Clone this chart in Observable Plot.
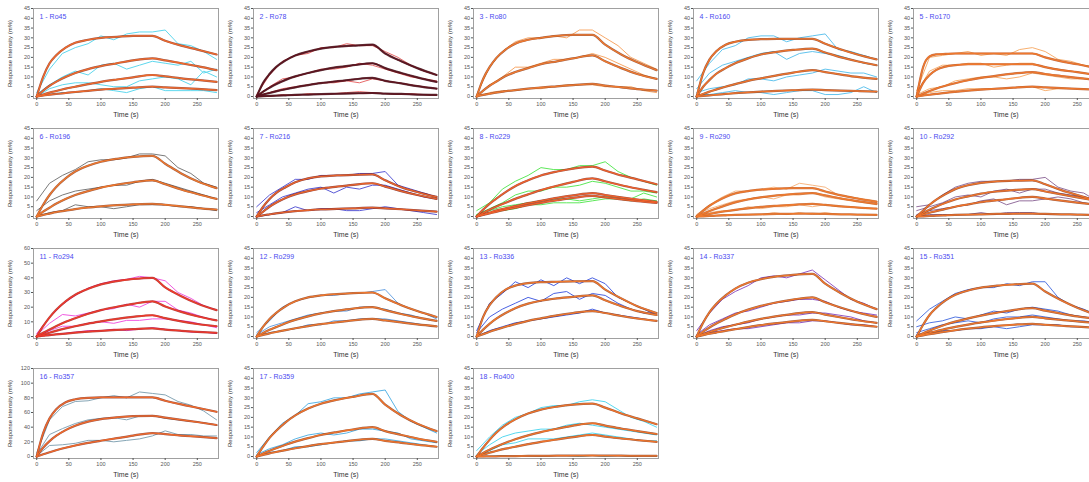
<!DOCTYPE html>
<html><head><meta charset="utf-8">
<script src="https://cdn.jsdelivr.net/npm/d3@7"></script>
<script src="https://cdn.jsdelivr.net/npm/@observablehq/plot@0.6"></script>
<style>
html,body{margin:0;padding:0;background:#fff;overflow:hidden;width:1089px;height:482px}
#grid{position:relative;width:1100px;height:482px}
.panel{position:absolute;width:220px;height:120px}
</style></head><body><div id="grid"></div>
<script>
// ---- time grids & ticks ----
const T_FIT = [0,10,20,30,45,60,80,100,125,150,180,200,225,250,280];
const T_RAW = [0,20,40,60,80,100,120,140,160,180,200,220,240,260,280];
const X_TICKS = [0,50,100,150,200,250];
const Y_TICKS_45 = [0,5,10,15,20,25,30,35,40,45];
const Y_TICKS_60 = [0,10,20,30,40,50,60];
const Y_TICKS_120 = [0,20,40,60,80,100,120];

// ---- panel metadata ----
const TITLES = ["1 - Ro45","2 - Ro78","3 - Ro80","4 - Ro160","5 - Ro170","6 - Ro196","7 - Ro216","8 - Ro229","9 - Ro290","10 - Ro292","11 - Ro294","12 - Ro299","13 - Ro336","14 - Ro337","15 - Ro351","16 - Ro357","17 - Ro359","18 - Ro400"];
const Y_MAX = [45,45,45,45,45,45,45,45,45,45,60,45,45,45,45,120,45,45];
const RAW_COLORS = ["#5fd8ee","#e86a6a","#f8a868","#62c4ee","#f8b070","#7a7a7a","#5a5ad6","#5ee85a","#f8b884","#94709e","#f05ae0","#6aa4e4","#4a62e2","#9256c4","#5276e2","#86a6b6","#58b4e6","#56d8f0"];
const FIT_COLORS = ["#f06a2a","#5e1420","#f07a2e","#f0742a","#f0782c","#f0782c","#e8642a","#f0602a","#f07a2c","#f0742a","#ee3a2a","#f0782c","#f0782c","#f0782c","#f0782c","#f06a2a","#f0742a","#f0742a"];
const FIT_EDGES = ["#8a3020","#3a0a10","#8a3a1c","#8a3a1c","#b04a1a","#8a3a1c","#7a1a1a","#8a3020","#b8521e","#8a3a1c","#a01a1a","#8a3a1c","#8a3a1c","#8a3a1c","#8a3a1c","#8a3020","#8a3a1c","#8a3a1c"];

// ---- fitted curves (values at T_FIT) ----
const FIT_1 = [[0,10,17,21,25,27.5,29,30,30.5,31,31,28.5,26,24,21.5],[0,3,5.5,7.5,10,12,14,15.5,17,18.5,19.5,18.5,17,15.5,13.5],[0,1,2,2.8,4,5,6.3,7.5,8.7,9.8,11,10.3,9.3,8.5,7.5],[0,0.5,0.9,1.3,1.8,2.3,2.9,3.5,4,4.5,5,4.7,4.3,3.9,3.3]];
const FIT_2 = [[0,7,11.5,15,18.5,21,23,24.5,25.5,26,26.5,22,18,14.5,11],[0,2.5,4.5,6.3,8.5,10.3,12,13.5,15,16,17,14.5,12,9.8,7.5],[0,1,1.8,2.6,3.7,4.7,5.8,6.8,7.8,8.7,9.5,8,6.7,5.3,4],[0,0.2,0.3,0.4,0.6,0.8,1,1.2,1.4,1.6,1.8,1.5,1.3,1,0.8]];
const FIT_3 = [[0,9,15,19.5,24,27,29,30,31,31.5,31.5,26.5,21.5,17.5,13.5],[0,3,5.5,7.5,10.5,12.5,14.5,16.5,18,19.5,21,18,14.5,11.5,9],[0,0.8,1.4,2,2.7,3.3,4,4.6,5.2,5.8,6.5,5.6,4.7,3.8,3]];
const FIT_4 = [[0,12,19,23,26.5,28,29,29.3,29.5,29.5,29.5,27,24,21.5,19],[0,5,8.5,11.5,14.5,17,19.5,21.5,22.8,23.8,24.5,22.5,20,18,16],[0,1.3,2.5,3.5,5,6.3,8,9.3,10.8,12.2,13.5,12.5,11.2,10,9],[0,0.3,0.6,0.9,1.3,1.7,2.1,2.5,2.9,3.2,3.5,3.3,3,2.8,2.5]];
const FIT_5 = [[0,15,20.5,21.5,21.8,22,22,22,22,22,22,20,18,16.5,14.5],[0,7,11,13.5,15.3,16,16.5,16.5,16.5,16.5,16.5,15,13.5,12.5,11],[0,1.5,2.8,4,5.5,6.8,8.3,9.5,10.7,11.7,12.5,11.5,10.5,9.5,8.5],[0,0.5,0.9,1.3,1.9,2.4,3,3.5,4,4.5,5,4.7,4.3,3.9,3.5]];
const FIT_6 = [[0,6,11,15,19.5,23,26,28,29.5,30.5,31,27,22,18,14.5],[0,2.5,4.5,6.5,9,11,13,14.8,16.3,17.5,18.5,16.5,13.8,11.5,9],[0,0.8,1.5,2.2,3,3.8,4.6,5.2,5.8,6.2,6.5,6,5.2,4.3,3.5]];
const FIT_7 = [[0,5,9,12,15,17.5,19.5,20.5,21,21.3,21.5,18.5,15,12.5,10],[0,2.5,5,7,9.5,11.3,13,14.3,15.3,16.2,17,15.3,13,11,9],[0,0.6,1.1,1.6,2.2,2.7,3.2,3.6,3.9,4.2,4.5,4.2,3.7,3.1,2.5]];
const FIT_8 = [[0,3.5,6.5,9,12.5,15.5,18.5,21,23,24.5,25.5,23.5,21,19,16.5],[0,1.8,3.5,5,7,9,11.3,13.5,15.7,17.7,19.5,18,16,14.3,12.5],[0,1,2,3,4.2,5.3,6.8,8,9.5,10.8,12,11,9.8,8.7,7.5],[0,0.8,1.6,2.4,3.5,4.5,5.8,7,8.3,9.5,10.5,9.8,8.8,7.9,7]];
const FIT_9 = [[0,3,5.5,7.5,10,11.8,13,13.7,14.2,14.5,14.5,12.8,10.8,9.2,7.5],[0,1.5,2.8,4,5.7,7.2,8.7,9.8,10.8,11.5,12,10.8,9.2,7.9,6.5],[0,0.7,1.3,1.9,2.7,3.4,4.2,4.9,5.5,6,6.5,5.9,5.2,4.6,4],[0,0.1,0.3,0.4,0.6,0.8,1,1.1,1.3,1.4,1.5,1.3,1.1,1,0.8]];
const FIT_10 = [[0,3,6,8.5,11.5,14,16,17.2,18,18.3,18.5,16.5,13.5,11,8],[0,1.8,3.5,5,7,8.7,10.3,11.7,12.8,13.5,14,12.8,11.3,9.8,8],[0,1,1.9,2.7,3.9,5,6.2,7.3,8.3,9.2,10,9.2,8.1,7.1,6],[0,0.1,0.3,0.4,0.6,0.8,1,1.1,1.3,1.4,1.5,1.3,1.1,1,0.8]];
const FIT_11 = [[0,7,13,18,24,28.5,32.5,35.5,37.8,39.2,40,33.5,27.5,22.5,18],[0,2.5,4.8,7,10,12.5,15.5,18,20.3,22.3,24,20.5,16.8,13.8,11],[0,1.3,2.6,3.8,5.5,7,8.8,10.3,12,13.4,14.5,12.5,10.3,8.5,7],[0,0.5,1,1.4,2,2.6,3.3,3.9,4.5,5,5.5,4.7,3.9,3.2,2.5]];
const FIT_12 = [[0,5,9,12,15.5,18,20,21,21.7,22.2,22.5,19.5,16,13,10],[0,1.8,3.4,4.8,6.8,8.5,10.3,11.8,13.2,14.3,15,13.5,11.5,9.8,8],[0,0.8,1.6,2.3,3.3,4.2,5.3,6.3,7.3,8.2,9,8.2,7.2,6.2,5.2]];
const FIT_13 = [[0,10,16,20,24,26,27.3,27.8,28,28.2,28.3,24,19.5,15.5,12],[0,3.5,6.5,9,12,14.5,16.8,18.3,19.5,20.3,21,18.5,15.5,13,11],[0,1.2,2.4,3.5,5,6.3,8,9.3,10.8,12,13,12,10.5,9.2,8]];
const FIT_14 = [[0,7,12.5,16.5,21,24.5,27.5,29.3,30.7,31.5,32,27,22,17.8,14],[0,2.5,4.6,6.5,9,11.3,13.8,15.7,17.5,18.9,20,17.5,14.7,12.3,10],[0,1.2,2.3,3.3,4.8,6,7.6,9,10.4,11.6,12.5,11.2,9.7,8.3,7],[0,0.7,1.4,2,2.9,3.7,4.8,5.8,6.8,7.7,8.5,7.8,6.8,5.9,5]];
const FIT_15 = [[0,6,11,14.5,18.5,21.3,23.5,25,26,26.6,27,23,18.5,14.7,11],[0,1.6,3,4.3,6.1,7.6,9.3,10.7,12.2,13.5,14.5,13.2,11.7,10.3,9],[0,1,1.9,2.7,3.9,4.9,6.1,7.2,8.3,9.2,10,9.3,8.5,7.7,7],[0,0.6,1.2,1.7,2.5,3.2,4,4.7,5.4,6,6.5,6,5.5,5,4.5]];
const FIT_16 = [[0,32,52,64,74,78,80,80.5,80.5,80.5,80.5,76,71,66.5,61],[0,12,21,28,36,42,47.5,51,53.5,55,55.5,53,50,47,43],[0,3,5.8,8.5,12,15,18.5,21.5,25,28.5,32,30.5,28.5,27,25]];
const FIT_17 = [[0,5,9.5,13,17.5,21,24.5,27,29,30.5,32,26.5,21,16.8,13],[0,1.5,2.9,4.2,6,7.6,9.4,11,12.5,13.8,15,13,11,9.2,7.5],[0,0.8,1.6,2.3,3.3,4.2,5.3,6.3,7.3,8.2,9,8,7,6,5]];
const FIT_18 = [[0,4.5,8.5,12,16,19,22,24,25.5,26.5,27,25,22,19.5,16.5],[0,1.8,3.5,5,7,8.8,10.8,12.5,14.2,15.8,17,15.8,14.3,13,11.5],[0,1,1.9,2.8,4,5,6.3,7.5,8.7,9.9,11,10.2,9.2,8.4,7.5],[0,0,0.1,0.1,0.2,0.2,0.3,0.3,0.4,0.4,0.5,0.4,0.4,0.3,0.3]];

// ---- measured curves (values at T_RAW) ----
const RAW_1 = [[2,14,22,25,27,31,29,32,33,33,34,27,26,23,19],[1,6,10,13,11,16,17,14,16,18,17,16,18,12,14],[0,4,6,7,7,6,5,5,8,9,10,9,6,13,10],[0,1,2,2,3,4,3,2,4,5,3,3,3,3,2]];
const RAW_2 = [[1,11,18,21,22,25,25,27,26,26,23,20,16,13,11],[0,5,9,10,12,14,14,15,17,16,14,12,10,9,8],[0,2,4,5,6,7,7,8,7,9,8,7,6,5,4],[0,0,1,0.5,1.5,1,1.5,2,2.5,2,1.5,1,1.5,1,0.5]];
const RAW_3 = [[1,15,23,28,30,30,31,30,34,34,30,26,20,17,14],[0,6,10,15,15,17,19,19,20,22,20,17,14,11,9],[0,2,3,3,4,4,5,6,6,6,5,5,5,3,2]];
const RAW_4 = [[8,17,24,26,30,31,31,28,30,31,32,24,23,21,19],[4,12,16,18,20,22,23,19,22,23,22,21,19,17,16],[2,4,5,6,9,9,8,10,11,12,14,13,12,12,10],[1,1,2,3,2,2,1,2,3,3,1,1,2,5,2]];
const RAW_5 = [[3,20,21,22,23,21,22,21,24,25,23,19,18,16,15],[2,13,16,16,17,17,15,16,17,17,15,14,13,12,11],[1,4,5,8,9,10,10,9,10,12,11,10,9,9,8],[0,2,3,3,4,4,4,4,5,5,3,4,4,4,3]];
const RAW_6 = [[8,17,21,24,28,29,29,30,32,32,31,25,22,17,15],[3,8,11,13,14,15,16,16,18,19,17,15,13,11,9],[0,2,3,6,5,5,4,5,6,6,6,5,5,4,3]];
const RAW_7 = [[5,11,15,19,19,21,21,21,22,22,23,16,14,12,10],[2,6,10,12,14,15,12,15,14,16,16,14,12,10,9],[0,1,2,5,3,4,4,3,3,4,5,4,3,2,1]];
const RAW_8 = [[3,7,14,18,21,25,24,24,26,26,28,23,20,18,16],[1,4,7,11,13,13,15,15,16,18,17,15,13,13,12],[1,3,5,6,7,8,9,9,8,9,10,10,9,12,10],[0,2,3,4,6,6,7,7,7,8,9,9,8,9,8]];
const RAW_9 = [[1,6,10,13,13,14,15,14,17,16,15,11,10,9,8],[1,4,6,8,9,10,9,11,11,12,10,9,8,7,6],[0,2,3,3,5,4,5,5,6,5,6,5,5,4,4],[0,0,1,1,1,1,2,1,2,1,2,1,1,1,1]];
const RAW_10 = [[5,6,11,15,17,18,18,18,19,19,20,15,13,12,8],[3,5,7,10,11,10,13,14,12,14,14,12,11,10,9],[1,3,4,5,6,8,9,6,8,8,9,10,9,7,6],[0,1,1,1,1,2,1,2,2,2,1,1,1,1,1]];
const RAW_11 = [[2,13,22,28,33,36,38,39,41,40,38,30,26,21,18],[1,9,15,14,16,18,19,22,20,24,24,18,16,13,11],[0,4,7,7,9,10,9,11,11,12,12,11,10,8,6],[0,1,2,3,4,4,5,4,5,6,5,4,3,3,2]];
const RAW_12 = [[2,8,15,18,20,21,21,22,22,23,24,17,14,12,9],[1,5,7,9,11,12,13,13,15,15,14,12,11,9,8],[0,2,3,4,6,6,8,8,9,9,9,8,7,6,5]];
const RAW_13 = [[3,17,22,28,25,29,26,30,27,30,27,20,17,14,11],[2,10,14,17,20,18,22,23,19,22,21,17,14,12,12],[0,3,5,7,8,9,10,11,12,14,12,11,10,9,8]];
const RAW_14 = [[3,12,19,23,26,30,31,30,32,34,29,24,19,17,14],[1,6,9,12,13,15,17,18,19,19,18,15,13,12,11],[0,3,5,6,7,9,10,11,11,12,12,11,10,8,7],[0,2,3,4,4,5,6,7,7,8,8,7,6,6,5]];
const RAW_15 = [[8,14,18,22,24,25,25,27,26,28,28,20,16,14,11],[5,7,8,10,9,11,13,12,14,15,14,13,11,10,9],[2,4,6,7,8,7,9,10,10,11,10,9,8,8,7],[1,2,3,3,4,4,5,4,5,6,6,6,5,5,4]];
const RAW_16 = [[5,50,68,75,76,80,83,80,88,86,84,75,70,62,50],[3,30,38,45,50,52,53,50,55,56,52,50,48,46,43],[1,15,16,18,22,22,20,22,24,28,35,30,30,28,28]];
const RAW_17 = [[2,10,17,21,27,28,30,30,32,33,34,23,18,15,12],[1,4,6,9,11,12,11,12,14,14,13,12,9,8,7],[0,2,3,5,5,6,7,8,8,9,9,8,7,6,5]];
const RAW_18 = [[3,10,16,20,22,25,26,26,28,29,28,24,20,18,15],[1,6,10,12,13,14,14,16,17,16,15,14,13,12,11],[0,3,6,7,9,9,9,10,11,12,11,10,9,8,8],[0,0,0.5,0,0.5,0,0.5,0.5,0,0.5,0,0.5,0,0.5,0]];

const FITS = [FIT_1,FIT_2,FIT_3,FIT_4,FIT_5,FIT_6,FIT_7,FIT_8,FIT_9,FIT_10,FIT_11,FIT_12,FIT_13,FIT_14,FIT_15,FIT_16,FIT_17,FIT_18];
const RAWS = [RAW_1,RAW_2,RAW_3,RAW_4,RAW_5,RAW_6,RAW_7,RAW_8,RAW_9,RAW_10,RAW_11,RAW_12,RAW_13,RAW_14,RAW_15,RAW_16,RAW_17,RAW_18];

function toRows(curves, times) {
  const rows = [];
  curves.forEach((vals, k) => vals.forEach((v, j) => rows.push({t: times[j], v, k})));
  return rows;
}

const grid = document.getElementById("grid");
TITLES.forEach((title, i) => {
  const ymax = Y_MAX[i];
  const yticks = ymax === 45 ? Y_TICKS_45 : ymax === 60 ? Y_TICKS_60 : Y_TICKS_120;
  const pad = ymax * 2 / 88;
  const raw = toRows(RAWS[i], T_RAW);
  const fit = toRows(FITS[i], T_FIT);
  const chart = Plot.plot({
    width: 220, height: 120,
    marginLeft: 33, marginRight: 2, marginTop: 8, marginBottom: 22,
    x: {domain: [-5, 283]},
    y: {domain: [-pad, ymax]},
    style: {fontFamily: "Liberation Sans, Arial, sans-serif", background: "#fff", overflow: "visible"},
    marks: [
      Plot.line(raw, {x: "t", y: "v", z: "k", stroke: RAW_COLORS[i], strokeWidth: 1}),
      Plot.line(fit, {x: "t", y: "v", z: "k", stroke: FIT_EDGES[i], strokeWidth: 2.2, curve: "monotone-x", strokeOpacity: 0.8}),
      Plot.line(fit, {x: "t", y: "v", z: "k", stroke: FIT_COLORS[i], strokeWidth: 1.3, curve: "monotone-x"}),
      Plot.frame({stroke: "#a0a0a0", strokeWidth: 1}),
      Plot.axisX({ticks: X_TICKS, tickSize: 2, tickPadding: 1.5, label: null, fontSize: 5.5, color: "#555"}),
      Plot.axisY({ticks: yticks, tickSize: 2, tickPadding: 1.5, label: null, fontSize: 5.5, color: "#555"}),
      Plot.text([title], {text: d => d, frameAnchor: "top-left", dx: 6, dy: 6, textAnchor: "start", fill: "#4a4af0", fontSize: 7}),
      Plot.text(["Time (s)"], {text: d => d, frameAnchor: "bottom", dy: 18, textAnchor: "middle", fill: "#333", fontSize: 7}),
      Plot.text(["Response Intensity (m%)"], {text: d => d, frameAnchor: "left", dx: -23, rotate: -90, textAnchor: "middle", fill: "#333", fontSize: 6})
    ]
  });
  const div = document.createElement("div");
  div.className = "panel";
  div.style.left = (i % 5) * 220 + "px";
  div.style.top = Math.floor(i / 5) * 120 + "px";
  div.appendChild(chart);
  grid.appendChild(div);
});
</script>
</body></html>
